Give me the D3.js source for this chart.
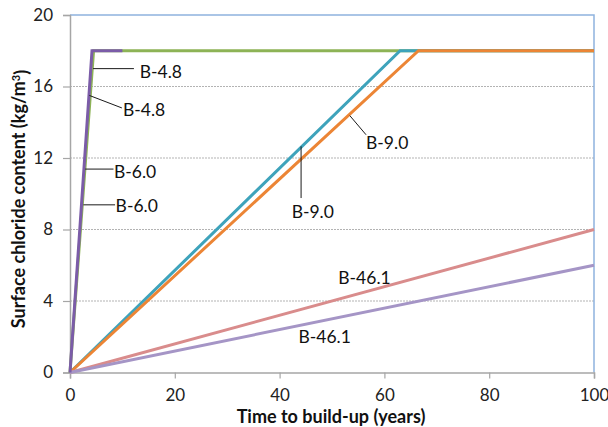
<!DOCTYPE html>
<html>
<head>
<meta charset="utf-8">
<script src="https://cdn.jsdelivr.net/npm/d3@7"></script>
<style>
  html, body { margin: 0; padding: 0; background: #fff; }
  svg { display: block; font-family: Lato, "Liberation Sans", sans-serif; }
</style>
</head>
<body>
<svg id="chart" width="608" height="427"></svg>
<script>
// Surface chloride build-up: time (years) vs. chloride content (kg/m3)
const xTicks = [0, 20, 40, 60, 80, 100];
const yTicks = [0, 4, 8, 12, 16, 20];
const gridValues = [4, 8, 12, 16];

// Breakpoints of each build-up curve: [time, chloride]
const greenCurve  = [[0, 0], [4.5, 18], [100, 18]];
const purpleCurve = [[0, 0], [4.2, 18], [10, 18]];
const tealCurve   = [[0, 0], [63, 18], [100, 18]];
const orangeCurve = [[0, 0], [66.5, 18], [100, 18]];
const pinkCurve   = [[0, 0], [100, 8.0]];
const lilacCurve  = [[0, 0], [100, 6.0]];

const curveColors = ["#8db356", "#7b5ca8", "#3ea3bb", "#ec8535", "#d98c8c", "#a595c6"];

// Annotation labels: text, label anchor [t, c], optional leader [[t, c], [t, c]]
const labelTexts   = ["B-4.8", "B-4.8", "B-6.0", "B-6.0", "B-9.0", "B-9.0", "B-46.1", "B-46.1"];
const labelAnchors = [[13.3, 16.85], [10.1, 14.7], [8.4, 11.25], [8.7, 9.33], [56.5, 12.84], [42.3, 9.0], [51.2, 5.28], [43.6, 1.99]];
const labelLeaders = [
  [[4.4, 17.0], [12.2, 17.0]],
  [[3.7, 15.5], [9.9, 14.8]],
  [[2.9, 11.38], [8.3, 11.38]],
  [[2.55, 9.38], [8.6, 9.38]],
  [[53.4, 14.37], [56.5, 13.3]],
  [[44.1, 12.65], [44.1, 9.76]],
  null,
  null
];

const svg = d3.select("#chart");
const plotLeft = 70, plotRight = 594, plotTop = 15, plotBottom = 372.5;

const x = d3.scaleLinear().domain([0, 100]).range([plotLeft, plotRight]);
const y = d3.scaleLinear().domain([0, 20]).range([plotBottom, plotTop]);

// dashed gridlines
svg.append("g").selectAll("line").data(gridValues).join("line")
  .attr("x1", plotLeft).attr("x2", plotRight)
  .attr("y1", d => y(d)).attr("y2", d => y(d))
  .attr("stroke", "#b3b3b3").attr("stroke-width", 1)
  .attr("stroke-dasharray", "2,1");

// plot frame (top and right)
svg.append("path")
  .attr("d", `M${plotLeft},${y(20)}H${plotRight}V${plotBottom}`)
  .attr("fill", "none").attr("stroke", "#8fb3de").attr("stroke-width", 1.5);

// axes
const yAxis = svg.append("g").attr("transform", `translate(${plotLeft},0)`)
  .call(d3.axisLeft(y).tickValues(yTicks).tickSize(7).tickPadding(10));
const xAxis = svg.append("g").attr("transform", `translate(0,${plotBottom})`)
  .call(d3.axisBottom(x).tickValues(xTicks).tickSize(6).tickPadding(10));

[xAxis, yAxis].forEach(a => {
  a.select(".domain").attr("stroke", "#a6a6a6").attr("stroke-width", 1.5);
  a.selectAll(".tick line").attr("stroke", "#a6a6a6").attr("stroke-width", 1.2);
  a.selectAll(".tick text").attr("fill", "#222").style("font-size", "17px")
    .style("font-family", "Lato, sans-serif");
});

// curves
const line = d3.line().x(d => x(d[0])).y(d => y(d[1]));
const curves = [greenCurve, purpleCurve, tealCurve, orangeCurve, pinkCurve, lilacCurve];
const drawOrder = [0, 2, 3, 4, 5, 1];
svg.append("g").selectAll("path").data(drawOrder).join("path")
  .attr("d", i => line(curves[i]))
  .attr("fill", "none")
  .attr("stroke", i => curveColors[i])
  .attr("stroke-width", 3)
  .attr("stroke-linejoin", "miter");

// leader lines
const leaders = labelLeaders.filter(d => d);
svg.append("g").selectAll("line").data(leaders).join("line")
  .attr("x1", d => x(d[0][0])).attr("y1", d => y(d[0][1]))
  .attr("x2", d => x(d[1][0])).attr("y2", d => y(d[1][1]))
  .attr("stroke", "#1a1a1a").attr("stroke-width", 1);

// label text
svg.append("g").selectAll("text").data(labelTexts).join("text")
  .attr("x", (d, i) => x(labelAnchors[i][0]))
  .attr("y", (d, i) => y(labelAnchors[i][1]))
  .attr("dy", "0.36em")
  .attr("fill", "#111")
  .style("font-size", "17.5px")
  .text(d => d);

// axis titles
svg.append("text")
  .attr("x", (plotLeft + plotRight) / 2 - 1).attr("y", 422.5)
  .attr("text-anchor", "middle")
  .style("font-size", "18px").style("font-weight", "bold").attr("fill", "#111")
  .text("Time to build-up (years)");

const yt = svg.append("text")
  .attr("transform", `translate(19,199) rotate(-90)`)
  .attr("text-anchor", "middle").attr("dy", "0.35em")
  .style("font-size", "18px").style("font-weight", "bold").attr("fill", "#111");
yt.append("tspan").text("Surface chloride content (kg/m");
yt.append("tspan").attr("dy", "-0.45em").style("font-size", "11px").text("3");
yt.append("tspan").attr("dy", "0.45em").text(")");
</script>
</body>
</html>
